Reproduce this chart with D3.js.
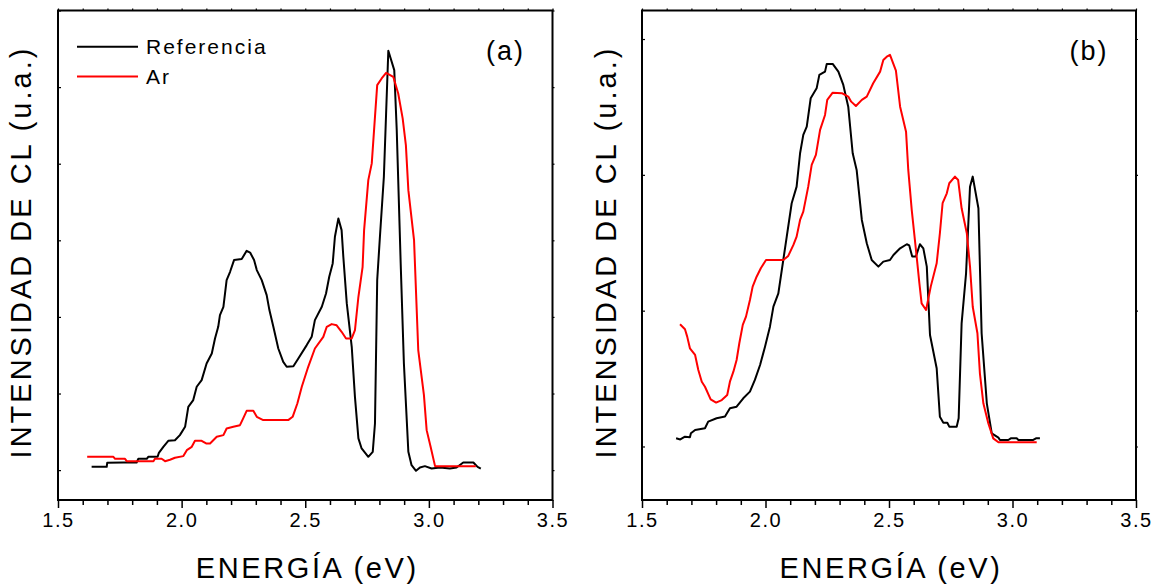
<!DOCTYPE html>
<html>
<head>
<meta charset="utf-8">
<script src="https://cdn.jsdelivr.net/npm/d3@7"></script>
<style>
  html, body { margin: 0; padding: 0; background: #fff; }
  svg { display: block; }
  text { font-family: "Liberation Sans", Arial, sans-serif; fill: #000; }
</style>
</head>
<body>
<svg id="chart" width="1154" height="584"></svg>
<script>
// ---------- DATA ----------
const xMajorTicks = [1.5, 2.0, 2.5, 3.0, 3.5];
const xMinorTicks = [1.6,1.7,1.8,1.9,2.1,2.2,2.3,2.4,2.6,2.7,2.8,2.9,3.1,3.2,3.3,3.4];
const seriesNames = ["Referencia", "Ar"];
const panelLabels = ["(a)", "(b)"];
const xTitle = "ENERGÍA (eV)";
const yTitle = "INTENSIDAD DE CL (u.a.)";
const yTicksA = [0, 1, 2, 3, 4, 5, 6];
const yTicksB = [0, 1, 2, 3];

// Panel (a) - Referencia
const eA_ref = [1.636,1.697,1.699,1.764,1.818,1.825,1.859,1.865,1.903,1.908,1.926,1.946,1.973,1.993,2.014,2.027,2.047,2.061,2.081,2.101,2.122,2.135,2.148,2.155,2.169,2.182,2.196,2.212,2.243,2.263,2.277,2.293,2.304,2.324,2.344,2.355,2.371,2.391,2.411,2.425,2.452,2.472,2.506,2.526,2.539,2.567,2.584,2.597,2.611,2.62,2.634,2.647,2.654,2.668,2.688,2.701,2.715,2.728,2.755,2.773,2.782,2.791,2.802,2.818,2.827,2.836,2.86,2.87,2.886,2.899,2.917,2.93,2.948,2.964,2.984,3.011,3.045,3.085,3.112,3.139,3.18,3.197,3.21];
const vA_ref = [0.043,0.043,0.095,0.1,0.1,0.148,0.148,0.174,0.174,0.226,0.304,0.383,0.39,0.457,0.565,0.826,0.914,1.088,1.175,1.393,1.523,1.719,1.871,2.023,2.132,2.48,2.589,2.742,2.755,2.863,2.84,2.742,2.611,2.48,2.285,2.089,1.871,1.588,1.414,1.349,1.355,1.458,1.632,1.74,1.958,2.132,2.306,2.524,2.698,3.046,3.286,3.133,2.785,2.176,1.61,0.957,0.414,0.283,0.174,0.239,0.609,2.48,3.046,3.829,4.656,5.474,5.222,4.439,2.698,1.393,0.239,0.065,-0.009,0.035,0.052,0.022,0.035,0.02,0.035,0.1,0.1,0.043,0.02];

// Panel (a) - Ar
const eA_ar = [1.618,1.724,1.731,1.771,1.778,1.886,1.892,1.919,1.933,1.953,1.973,2.007,2.021,2.041,2.054,2.081,2.099,2.115,2.142,2.169,2.182,2.209,2.236,2.249,2.263,2.29,2.304,2.33,2.431,2.449,2.468,2.486,2.512,2.539,2.573,2.587,2.607,2.627,2.647,2.665,2.688,2.701,2.715,2.732,2.738,2.755,2.769,2.782,2.791,2.809,2.827,2.856,2.876,2.894,2.907,2.917,2.94,2.957,2.98,2.991,3.007,3.025,3.045,3.19];
const vA_ar = [0.174,0.174,0.148,0.148,0.117,0.117,0.148,0.148,0.117,0.135,0.161,0.183,0.261,0.304,0.383,0.383,0.348,0.348,0.435,0.457,0.544,0.566,0.587,0.675,0.774,0.774,0.696,0.653,0.653,0.696,0.87,1.088,1.349,1.588,1.74,1.871,1.906,1.89,1.806,1.719,1.719,1.828,2.263,2.654,3.133,3.786,4.004,4.612,5.026,5.113,5.187,5.134,4.917,4.591,4.243,3.655,3.003,1.567,0.979,0.522,0.304,0.052,0.052,0.052];

// Panel (b) - Referencia
const eB_ref = [1.638,1.655,1.674,1.694,1.698,1.715,1.755,1.768,1.802,1.836,1.856,1.883,1.91,1.937,1.957,1.978,1.998,2.018,2.032,2.052,2.072,2.086,2.106,2.126,2.14,2.153,2.167,2.183,2.207,2.218,2.241,2.248,2.272,2.295,2.315,2.335,2.353,2.369,2.39,2.41,2.43,2.457,2.477,2.504,2.518,2.545,2.572,2.582,2.594,2.609,2.625,2.639,2.653,2.666,2.693,2.706,2.72,2.736,2.744,2.774,2.782,2.794,2.812,2.828,2.839,2.862,2.875,2.896,2.916,2.943,2.949,2.983,2.993,3.017,3.024,3.084,3.095,3.111];
const vB_ref = [0.06,0.052,0.072,0.068,0.097,0.121,0.134,0.183,0.208,0.22,0.281,0.293,0.355,0.404,0.49,0.6,0.735,0.882,1.03,1.128,1.373,1.545,1.791,1.913,2.159,2.294,2.355,2.564,2.637,2.736,2.76,2.817,2.817,2.76,2.662,2.502,2.159,2.036,1.668,1.496,1.373,1.324,1.361,1.373,1.41,1.459,1.489,1.48,1.398,1.398,1.489,1.459,1.324,0.821,0.576,0.219,0.175,0.175,0.146,0.146,0.208,0.907,1.275,1.913,1.987,1.754,0.834,0.318,0.097,0.065,0.048,0.048,0.06,0.06,0.048,0.048,0.06,0.06];

// Panel (b) - Ar
const eB_ar = [1.654,1.674,1.683,1.694,1.715,1.728,1.742,1.755,1.778,1.8,1.823,1.845,1.856,1.87,1.883,1.894,1.908,1.921,1.937,1.948,1.964,1.981,2.002,2.072,2.092,2.113,2.126,2.14,2.153,2.173,2.187,2.204,2.221,2.241,2.25,2.272,2.309,2.335,2.347,2.366,2.39,2.41,2.436,2.464,2.477,2.491,2.504,2.528,2.545,2.569,2.578,2.592,2.612,2.623,2.632,2.65,2.669,2.693,2.706,2.717,2.734,2.744,2.767,2.78,2.794,2.815,2.828,2.839,2.858,2.868,2.882,2.902,2.922,2.943,3.098];
const vB_ar = [0.9,0.863,0.809,0.723,0.674,0.563,0.477,0.44,0.347,0.323,0.342,0.379,0.477,0.551,0.637,0.76,0.895,0.956,1.079,1.177,1.25,1.312,1.373,1.373,1.403,1.484,1.545,1.668,1.729,1.913,2.073,2.147,2.331,2.441,2.552,2.605,2.601,2.576,2.539,2.507,2.552,2.576,2.674,2.76,2.846,2.87,2.883,2.767,2.502,2.318,2.036,1.742,1.398,1.202,1.054,1.005,1.177,1.349,1.57,1.791,1.864,1.938,1.987,1.962,1.754,1.57,1.324,1.029,0.834,0.539,0.318,0.171,0.06,0.031,0.031];

// ---------- DRAW ----------
const svg = d3.select("#chart");
const colors = ["#000000", "#ff0000"];

const panels = [
  { left: 58, right: 552.5, top: 10.5, bottom: 500, yDomain: [-0.39, 6.0], yTicks: yTicksA,
    series: [[eA_ref, vA_ref], [eA_ar, vA_ar]], label: panelLabels[0], legend: true, ytx: 31 },
  { left: 642, right: 1136, top: 10.5, bottom: 500, yDomain: [-0.394, 3.21], yTicks: yTicksB,
    series: [[eB_ref, vB_ref], [eB_ar, vB_ar]], label: panelLabels[1], legend: false, ytx: 616 }
];

panels.forEach(p => {
  const x = d3.scaleLinear().domain([1.5, 3.5]).range([p.left, p.right]);
  const y = d3.scaleLinear().domain(p.yDomain).range([p.bottom, p.top]);
  const g = svg.append("g");

  // curves
  const line = d3.line().x(d => x(d[0])).y(d => y(d[1]));
  p.series.forEach((s, i) => {
    const pts = s[0].map((e, k) => [e, s[1][k]]);
    g.append("path").datum(pts)
      .attr("d", line)
      .attr("fill", "none")
      .attr("stroke", colors[i])
      .attr("stroke-width", 2)
      .attr("stroke-linejoin", "round");
  });

  // bottom axis (major)
  const bAx = g.append("g").attr("transform", `translate(0,${p.bottom})`)
    .call(d3.axisBottom(x).tickValues(xMajorTicks).tickSize(8).tickPadding(5).tickFormat(d3.format(".1f")));
  bAx.select(".domain").remove();
  bAx.selectAll("line").attr("stroke-width", 1.5);
  bAx.selectAll("text").style("font-size", "20px").style("letter-spacing", "1.5px")
    .style("font-family", "'Liberation Sans', Arial, sans-serif");
  // bottom minor
  const bMin = g.append("g").attr("transform", `translate(0,${p.bottom})`)
    .call(d3.axisBottom(x).tickValues(xMinorTicks).tickSize(5).tickFormat(""));
  bMin.select(".domain").remove();
  bMin.selectAll("line").attr("stroke-width", 1.5);

  // top axis small ticks
  const tAx = g.append("g").attr("transform", `translate(0,${p.top})`)
    .call(d3.axisTop(x).tickValues(xMajorTicks.concat(xMinorTicks)).tickSize(2).tickFormat(""));
  tAx.select(".domain").remove();
  tAx.selectAll("line").attr("stroke-width", 1.2);

  // left axis ticks (inward)
  const lAx = g.append("g").attr("transform", `translate(${p.left},0)`)
    .call(d3.axisLeft(y).tickValues(p.yTicks).tickSize(-3).tickFormat(""));
  lAx.select(".domain").remove();
  lAx.selectAll("line").attr("stroke-width", 1.2);
  // right axis ticks
  const rAx = g.append("g").attr("transform", `translate(${p.right},0)`)
    .call(d3.axisRight(y).tickValues(p.yTicks).tickSize(2).tickFormat(""));
  rAx.select(".domain").remove();
  rAx.selectAll("line").attr("stroke-width", 1.2);

  // frame
  g.append("rect")
    .attr("x", p.left).attr("y", p.top)
    .attr("width", p.right - p.left).attr("height", p.bottom - p.top)
    .attr("fill", "none").attr("stroke", "#000").attr("stroke-width", 2);

  // axis titles
  g.append("text")
    .attr("x", (p.left + p.right) / 2 + 2).attr("y", 578)
    .attr("text-anchor", "middle")
    .style("font-size", "29px").style("letter-spacing", "2.6px")
    .text(xTitle);
  g.append("text")
    .attr("transform", `translate(${p.ytx},252) rotate(-90)`)
    .attr("text-anchor", "middle")
    .style("font-size", "29px").style("letter-spacing", "3px")
    .text(yTitle);

  // panel label
  g.append("text")
    .attr("x", p.right - 47).attr("y", 60)
    .attr("text-anchor", "middle")
    .style("font-size", "27px").style("letter-spacing", "2px")
    .text(p.label);

  // legend
  if (p.legend) {
    const lg = [46.7, 76.5];
    seriesNames.forEach((n, i) => {
      g.append("line")
        .attr("x1", 77).attr("x2", 138).attr("y1", lg[i]).attr("y2", lg[i])
        .attr("stroke", colors[i]).attr("stroke-width", 2);
      g.append("text")
        .attr("x", 146).attr("y", lg[i] + 7)
        .style("font-size", "21px").style("letter-spacing", "2px")
        .text(n);
    });
  }
});
</script>
</body>
</html>
